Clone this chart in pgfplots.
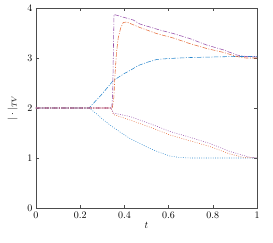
\documentclass[border=0pt]{standalone}
\usepackage{pgfplots}
\pgfplotsset{compat=1.18}
\definecolor{mblue}{rgb}{0.15,0.52,0.80}
\definecolor{morange}{rgb}{0.90,0.42,0.22}
\definecolor{mpurple}{rgb}{0.58,0.30,0.66}
\begin{document}
\begin{tikzpicture}
\begin{axis}[
  scale only axis, width=221pt, height=200pt,
  xmin=0, xmax=1, ymin=0, ymax=4,
  xtick={0,0.2,0.4,0.6,0.8,1}, ytick={0,1,2,3,4},
  xticklabels={0,0.2,0.4,0.6,0.8,1},
  tick align=inside, tick pos=both,
  major tick length=3pt,
  axis line style={black!70, line width=0.4pt},
  tick style={black!70, line width=0.4pt},
  xlabel={$t$}, ylabel={$|\cdot|_{TV}$},
  xlabel style={yshift=3pt}, ylabel style={yshift=3pt},
  every axis plot/.append style={line width=0.55pt},
]
\addplot[mblue, dash pattern=on 4.5pt off 1.5pt on 1pt off 1.5pt] coordinates {
(0,2)(0.24,2)(0.297,2.27)(0.35,2.55)(0.40,2.69)(0.425,2.75)(0.463,2.85)(0.50,2.91)(0.546,2.97)(0.60,2.99)(0.70,3.01)(0.80,3.02)(0.90,3.03)(1.0,3.03)};
\addplot[mblue, dash pattern=on 0.8pt off 1.5pt] coordinates {
(0,2)(0.24,2)(0.275,1.88)(0.30,1.78)(0.335,1.66)(0.38,1.52)(0.425,1.39)(0.47,1.29)(0.516,1.19)(0.56,1.11)(0.606,1.04)(0.65,1.01)(0.70,1.0)(1,1)};
\addplot[morange, dash pattern=on 0.8pt off 1.5pt] coordinates {
(0,2)(0.34,2)(0.35,1.87)(0.425,1.76)(0.52,1.61)(0.606,1.46)(0.70,1.34)(0.787,1.23)(0.878,1.08)(0.94,1.01)(1,1)};
\addplot[mpurple, dash pattern=on 0.8pt off 1.5pt] coordinates {
(0,2)(0.34,2)(0.35,1.90)(0.425,1.83)(0.52,1.68)(0.606,1.53)(0.70,1.41)(0.787,1.29)(0.878,1.13)(0.97,1.01)(1,1)};
\addplot[morange, dash pattern=on 4.5pt off 1.5pt on 1pt off 1.5pt] coordinates {
(0,2)(0.345,2)(0.352,2.2)(0.358,2.7)(0.364,3.1)(0.372,3.4)(0.383,3.6)(0.395,3.71)(0.41,3.72)(0.47,3.61)(0.545,3.49)(0.621,3.40)(0.695,3.29)(0.772,3.19)(0.85,3.11)(0.908,3.03)(0.95,3.0)(1,3.0)};
\addplot[mpurple, dash pattern=on 4.5pt off 1.5pt on 1pt off 1.5pt] coordinates {
(0,2)(0.343,2)(0.347,2.3)(0.353,3.87)(0.44,3.76)(0.47,3.68)(0.56,3.56)(0.621,3.49)(0.695,3.39)(0.772,3.26)(0.85,3.16)(0.908,3.06)(0.95,3.03)(1,3.02)};
\end{axis}
\pgfresetboundingbox
\path (current axis.south west) ++(-36pt,-34pt) rectangle ++(273pt,242pt);
\end{tikzpicture}
\end{document}
